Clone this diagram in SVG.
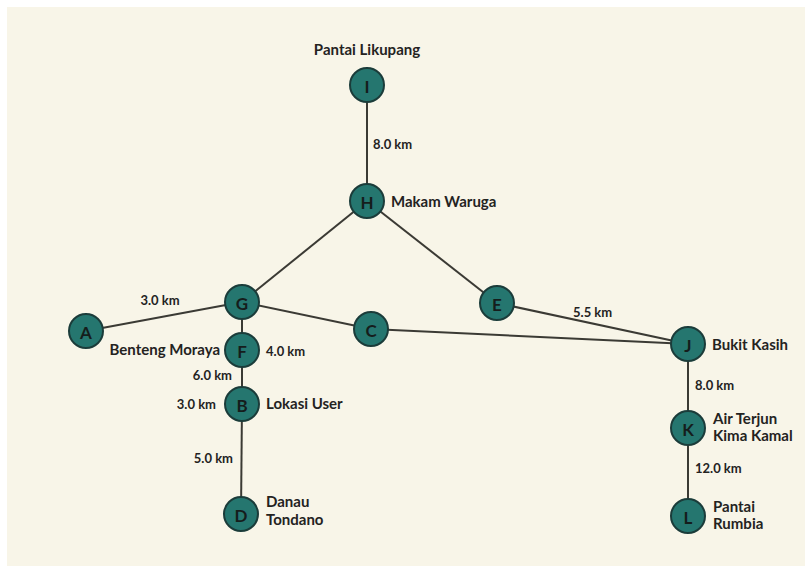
<svg xmlns="http://www.w3.org/2000/svg" width="808" height="569" viewBox="0 0 808 569">
<style>
.edge{stroke:#3b3a34;stroke-width:2;fill:none}
.node circle{fill:#25766f;stroke:#1b3c3a;stroke-width:2}
.node .id{font-family:Lato,"Liberation Sans",sans-serif;font-weight:700;font-size:17px;fill:#151d1c;text-anchor:middle;dominant-baseline:central}
.lbl{font-family:Lato,"Liberation Sans",sans-serif;font-weight:700;font-size:15px;fill:#24231f}
.km{font-family:Lato,"Liberation Sans",sans-serif;font-weight:700;font-size:13px;fill:#24231f}
</style>
<rect width="808" height="569" fill="#ffffff"/>
<rect x="7" y="7" width="798" height="559" fill="#f8f5e8"/>
<g id="connectors">
<line class="edge" x1="367" y1="85" x2="367" y2="201"/>
<line class="edge" x1="367" y1="201" x2="242" y2="302"/>
<line class="edge" x1="367" y1="201" x2="497" y2="303"/>
<line class="edge" x1="86" y1="331" x2="242" y2="302"/>
<line class="edge" x1="242" y1="302" x2="371" y2="329"/>
<line class="edge" x1="242" y1="302" x2="242" y2="350"/>
<line class="edge" x1="242" y1="350" x2="242" y2="404"/>
<line class="edge" x1="242" y1="404" x2="241" y2="514"/>
<line class="edge" x1="497" y1="303" x2="688" y2="344"/>
<line class="edge" x1="371" y1="329" x2="688" y2="344"/>
<line class="edge" x1="688" y1="344" x2="688" y2="428"/>
<line class="edge" x1="688" y1="428" x2="688" y2="516"/>
<text class="km" x="373" y="149">8.0 km</text>
<text class="km" x="160" y="305" text-anchor="middle">3.0 km</text>
<text class="km" x="266" y="356">4.0 km</text>
<text class="km" x="232" y="380" text-anchor="end">6.0 km</text>
<text class="km" x="216" y="409" text-anchor="end">3.0 km</text>
<text class="km" x="233" y="463" text-anchor="end">5.0 km</text>
<text class="km" x="573" y="317">5.5 km</text>
<text class="km" x="695" y="390">8.0 km</text>
<text class="km" x="695" y="473">12.0 km</text>
</g>
<g id="node-I" class="node"><circle cx="367" cy="85" r="17"/><text class="id" x="367" y="86">I</text><text class="lbl" x="367" y="55" text-anchor="middle">Pantai Likupang</text></g>
<g id="node-H" class="node"><circle cx="367" cy="201" r="17"/><text class="id" x="367" y="202">H</text><text class="lbl" x="391" y="207">Makam Waruga</text></g>
<g id="node-G" class="node"><circle cx="242" cy="302" r="17"/><text class="id" x="242" y="303">G</text></g>
<g id="node-A" class="node"><circle cx="86" cy="331" r="17"/><text class="id" x="86" y="332">A</text></g>
<g id="node-F" class="node"><circle cx="242" cy="350" r="17"/><text class="id" x="242" y="351">F</text><text class="lbl" x="220" y="355" text-anchor="end">Benteng Moraya</text></g>
<g id="node-B" class="node"><circle cx="242" cy="404" r="17"/><text class="id" x="242" y="405">B</text><text class="lbl" x="266" y="409">Lokasi User</text></g>
<g id="node-D" class="node"><circle cx="241" cy="514" r="17"/><text class="id" x="241" y="515">D</text><text class="lbl" x="266" y="507">Danau</text><text class="lbl" x="266" y="525">Tondano</text></g>
<g id="node-C" class="node"><circle cx="371" cy="329" r="17"/><text class="id" x="371" y="330">C</text></g>
<g id="node-E" class="node"><circle cx="497" cy="303" r="17"/><text class="id" x="497" y="304">E</text></g>
<g id="node-J" class="node"><circle cx="688" cy="344" r="17"/><text class="id" x="688" y="345">J</text><text class="lbl" x="712" y="350">Bukit Kasih</text></g>
<g id="node-K" class="node"><circle cx="688" cy="428" r="17"/><text class="id" x="688" y="429">K</text><text class="lbl" x="713" y="424">Air Terjun</text><text class="lbl" x="713" y="441">Kima Kamal</text></g>
<g id="node-L" class="node"><circle cx="688" cy="516" r="17"/><text class="id" x="688" y="517">L</text><text class="lbl" x="713" y="512">Pantai</text><text class="lbl" x="713" y="529">Rumbia</text></g>
</svg>
